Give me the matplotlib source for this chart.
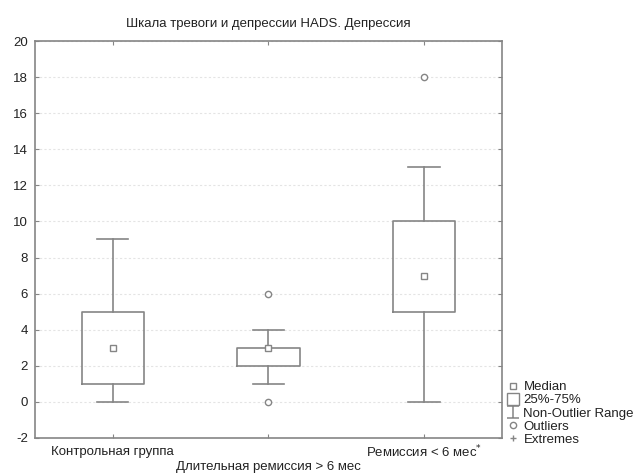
import matplotlib

matplotlib.use("Agg")
import matplotlib.pyplot as plt
from matplotlib.lines import Line2D
from matplotlib.path import Path

plt.rcParams["font.family"] = ["Liberation Sans", "DejaVu Sans"]
plt.rcParams["axes.unicode_minus"] = False

# данные
groups = ["Контрольная группа", "Длительная ремиссия > 6 мес", "Ремиссия < 6 мес$^{*}$"]
medians = [3, 3, 7]
q1 = [1, 2, 5]
q3 = [5, 3, 10]
wlo = [0, 1, 0]
whi = [9, 4, 13]
outliers = [[], [6, 0], [18]]

C_LINE = "#858585"
C_INK = "#222222"
C_GRID = "#e4e4e4"
FS = 9.5

fig = plt.figure(figsize=(6.36, 4.74), dpi=100)
ax = fig.add_axes([0.055, 0.076, 0.734, 0.8375])

pos = list(range(1, len(groups) + 1))
stats = []
for i, g in enumerate(groups):
    stats.append({"med": medians[i], "q1": q1[i], "q3": q3[i],
                  "whislo": wlo[i], "whishi": whi[i], "fliers": outliers[i], "label": g})

ax.bxp(stats, positions=pos, widths=0.4, showcaps=True, showfliers=True,
       boxprops=dict(color=C_LINE, lw=1.2),
       whiskerprops=dict(color=C_LINE, lw=1.2),
       capprops=dict(color=C_LINE, lw=1.2),
       medianprops=dict(lw=0),
       flierprops=dict(marker="o", ms=4.5, mfc="white", mec=C_LINE, mew=1.0),
       capwidths=0.2)
ax.plot(pos, medians, "s", ms=5, mfc="white", mec=C_LINE, mew=1.0, ls="none", zorder=5)

ax.set_xlim(0.5, 3.5)
ax.set_ylim(-2, 20)
ax.set_yticks(range(-2, 21, 2))
ax.set_xticks(pos)
ax.set_xticklabels([])
for i, g in enumerate(groups):
    dy = -0.036 if i % 2 == 0 else -0.073
    ax.text(pos[i], dy, g, transform=ax.get_xaxis_transform(), ha="center", va="center",
            fontsize=FS, color=C_INK)

ax.grid(axis="y", color=C_GRID, lw=0.8, ls=(0, (2, 2)))
ax.set_axisbelow(True)
for s in ax.spines.values():
    s.set_color(C_LINE)
    s.set_linewidth(1.2)
ax.tick_params(direction="in", top=True, right=True, length=3, color=C_LINE,
               labelsize=FS, labelcolor=C_INK, pad=5)
ax.set_title("Шкала тревоги и депрессии HADS. Депрессия", fontsize=FS, color=C_INK, pad=10)

ibeam = Path([(-0.5, 0.5), (0.5, 0.5), (0, 0.5), (0, -0.5), (-0.5, -0.5), (0.5, -0.5)],
             [Path.MOVETO, Path.LINETO, Path.MOVETO, Path.LINETO, Path.MOVETO, Path.LINETO])
handles = [
    Line2D([], [], marker="s", ms=5, mfc="white", mec=C_LINE, ls="none"),
    Line2D([], [], marker="s", ms=9, mfc="white", mec=C_LINE, ls="none"),
    Line2D([], [], marker=ibeam, ms=9, mec=C_LINE, mfc="none", mew=1.1, ls="none"),
    Line2D([], [], marker="o", ms=4.5, mfc="white", mec=C_LINE, ls="none"),
    Line2D([], [], marker="+", ms=5, mec=C_LINE, ls="none"),
]
labels = ["Median", "25%-75%", "Non-Outlier Range", "Outliers", "Extremes"]
fig.legend(handles, labels, loc="upper left", bbox_to_anchor=(0.797, 0.196), frameon=False,
           fontsize=FS, handlelength=0.9, handletextpad=0.35, labelspacing=0.07,
           borderpad=0, borderaxespad=0, labelcolor=C_INK)

fig.savefig("out.png", dpi=100)
